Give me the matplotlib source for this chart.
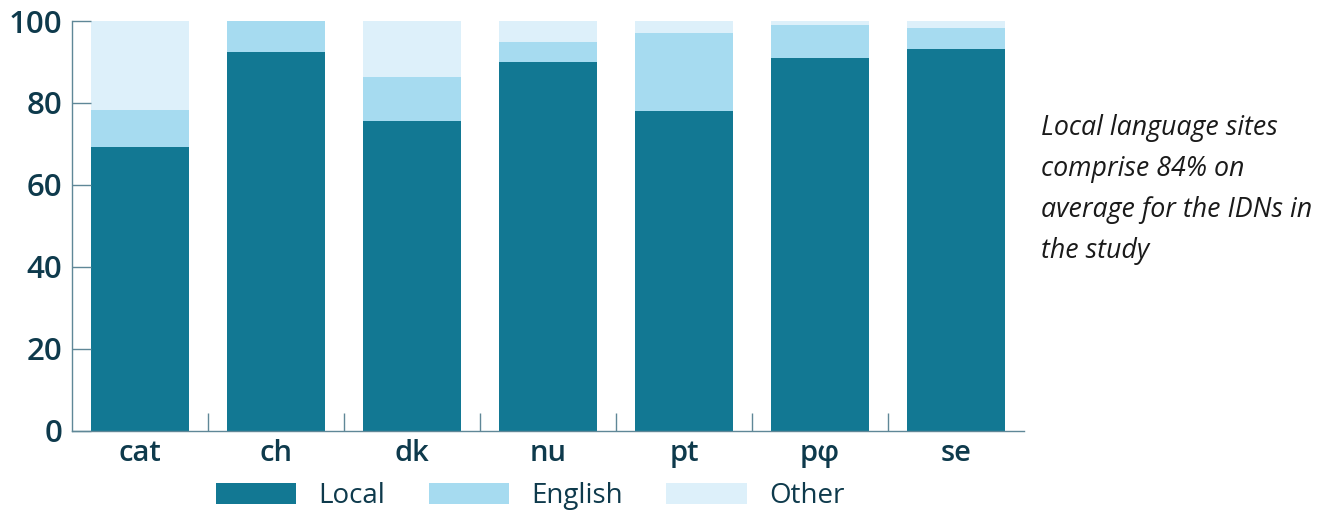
import matplotlib
matplotlib.use("Agg")
import matplotlib.pyplot as plt
import numpy as np

categories = ["cat", "ch", "dk", "nu", "pt", "pφ", "se"]
local = [69.3, 92.4, 75.6, 90.0, 78.0, 90.9, 93.1]
english = [9.1, 7.6, 10.7, 4.8, 19.0, 8.2, 5.2]
other = [21.6, 0.0, 13.7, 5.2, 3.0, 0.9, 1.7]
series_names = ["Local", "English", "Other"]
colors = ["#127893", "#a6dbf0", "#ddf0fa"]
yticks = [0, 20, 40, 60, 80, 100]
note = "Local language sites\ncomprise 84% on\naverage for the IDNs in\nthe study"

text_color = "#0e3a4c"
spine_color = "#5f8797"

plt.rcParams['font.family'] = ['Open Sans', 'DejaVu Sans']

fig = plt.figure(figsize=(13.23, 5.12), dpi=100)
ax = fig.add_axes([72/1323, 1 - 431/512, (1024-72)/1323, (431-21)/512])

x = np.arange(len(categories))
w = 0.72
loc = np.array(local); eng = np.array(english); oth = np.array(other)
ax.bar(x, loc, w, color=colors[0], label=series_names[0])
ax.bar(x, eng, w, bottom=loc, color=colors[1], label=series_names[1])
ax.bar(x, oth, w, bottom=loc + eng, color=colors[2], label=series_names[2])

ax.set_xlim(-0.5, len(categories) - 0.5)
ax.set_ylim(0, 100)
ax.set_yticks(yticks)
ax.set_yticklabels([str(t) for t in yticks])
ax.set_xticks(x)
ax.set_xticklabels(categories)
ax.set_xticks(np.arange(len(categories) - 1) + 0.5, minor=True)

for s in ["top", "right"]:
    ax.spines[s].set_visible(False)
for s in ["left", "bottom"]:
    ax.spines[s].set_color(spine_color)
    ax.spines[s].set_linewidth(1.0)

ax.tick_params(axis='y', direction='in', length=13.7, width=1.0, color=spine_color,
               labelsize=22.5, labelcolor=text_color, pad=7)
ax.tick_params(axis='x', which='major', length=0, labelsize=21, labelcolor=text_color, pad=6)
ax.tick_params(axis='x', which='minor', direction='in', length=13, width=1.0, color=spine_color)
for lbl in ax.get_yticklabels() + ax.get_xticklabels():
    lbl.set_fontweight('semibold')

leg = fig.legend(loc='center', bbox_to_anchor=(530/1323, 1 - 496/512), ncol=3, frameon=False,
                 fontsize=20, handlelength=2.9, handleheight=0.8, handletextpad=0.8,
                 columnspacing=1.55)
for t in leg.get_texts():
    t.set_color(text_color)

fig.text(1041/1323, 1 - 114/512, note, ha='left', va='top', fontsize=19.3, style='italic',
         color='#1a1a1a', linespacing=1.62)

fig.savefig("out.png", dpi=100)
